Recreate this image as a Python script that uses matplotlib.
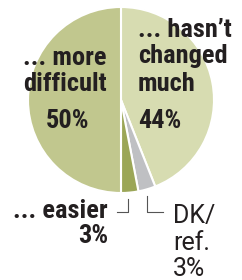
import matplotlib
matplotlib.use('Agg')
import matplotlib.pyplot as plt

categories = ["... hasn't changed much", "DK/ref.", "... easier", "... more difficult"]
values = [44, 3, 3, 50]
colors = ['#d7dcb1', '#bfc0c3', '#9ba657', '#c1c78e']

W, H = 242, 280
fig = plt.figure(figsize=(W / 100, H / 100), dpi=100)
# pie centre (121, 100), radius 93 px
r = 93
ax = fig.add_axes([(121 - r) / W, 1 - (100 + r) / H, 2 * r / W, 2 * r / H])
ax.pie(values, colors=colors, startangle=90, counterclock=False,
       wedgeprops=dict(edgecolor='white', linewidth=1.5))
ax.set_aspect('equal')
ax.set_xlim(-1, 1)
ax.set_ylim(-1, 1)

ink = '#231f20'
bold = dict(family=['Roboto Condensed', 'DejaVu Sans'], weight='bold', color=ink, fontsize=19)
norm = dict(family=['Roboto', 'DejaVu Sans'], color=ink, fontsize=18)


def put(x, y, s, ha, style):
    # x, y in pixels from top-left, y is the baseline
    fig.text(x / W, 1 - y / H, s, ha=ha, va='baseline', **style)


put(65, 65, "... more", 'center', bold)
put(65, 91, "difficult", 'center', bold)
put(68, 128, f"{values[3]}%", 'center', bold)

put(138, 37, "... hasn\u2019t", 'left', bold)
put(138, 63, "changed", 'left', bold)
put(138, 91, "much", 'left', bold)
put(138, 128, f"{values[0]}%", 'left', bold)

put(108, 218, "... easier", 'right', bold)
put(108, 243, f"{values[2]}%", 'right', bold)

put(173, 223, "DK/", 'left', norm)
put(173, 250, "ref.", 'left', norm)
put(173, 276, f"{values[1]}%", 'left', norm)

# leader lines
fig.add_artist(plt.Line2D([128 / W, 128 / W, 117 / W], [1 - 199 / H, 1 - 212 / H, 1 - 212 / H],
                          color='#555555', linewidth=0.8))
fig.add_artist(plt.Line2D([147 / W, 147 / W, 163 / W], [1 - 196 / H, 1 - 212 / H, 1 - 212 / H],
                          color='#555555', linewidth=0.8))

fig.savefig('out.png', dpi=100)
